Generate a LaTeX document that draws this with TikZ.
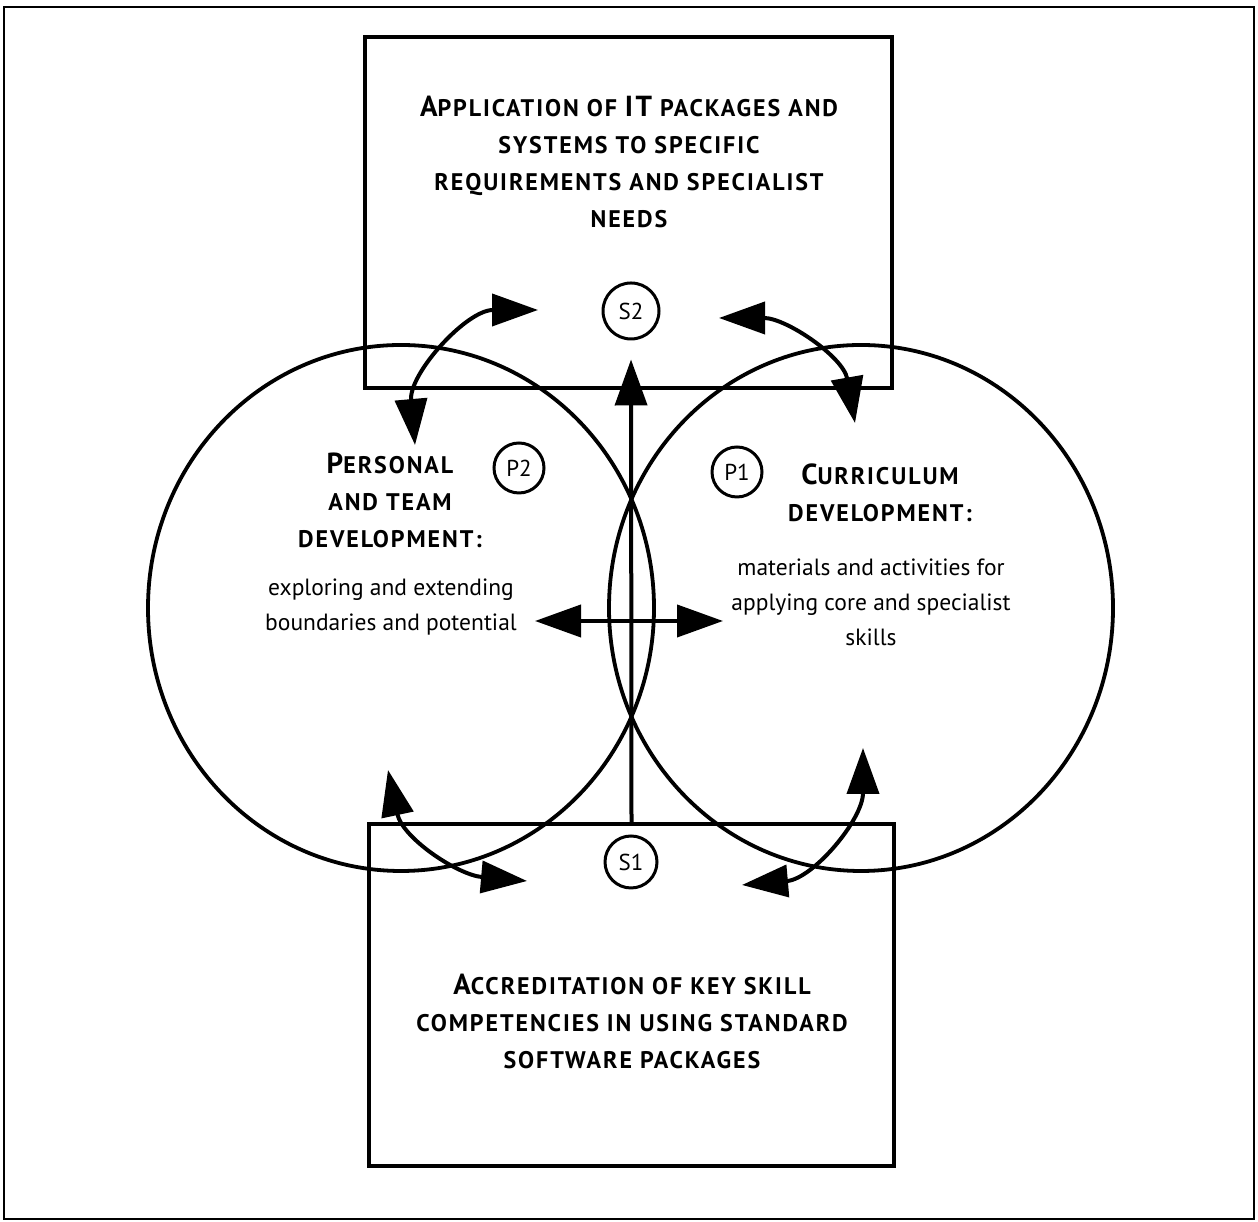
\documentclass[tikz,border=0pt]{standalone}
\usepackage{fontspec}
\setmainfont{PT Sans}
\usetikzlibrary{arrows.meta, shapes.geometric, positioning}

% fake small caps for the headings
\newcommand\smc{\fontsize{24}{37}\selectfont\bfseries\addfontfeature{LetterSpace=8}}
\newcommand\bigc{\fontsize{29}{37}\selectfont}

\begin{document}
\begin{tikzpicture}[
    x=1pt, y=1pt,
    >={Triangle[length=46pt, width=32pt]},
    box/.style={draw, line width=4pt, minimum width=527pt, minimum height=351pt},
    blob/.style={ellipse, draw, line width=3.8pt, inner sep=0pt},
    tag/.style={circle, draw, line width=3pt, minimum size=50pt, inner sep=0pt, font=\fontsize{23}{25}\selectfont},
    link/.style={line width=4pt, <->},
    title/.style={align=center, inner sep=0pt, font=\smc},
    body/.style={align=center, inner sep=0pt, font=\fontsize{23.5}{35}\selectfont}
]
   \useasboundingbox (0,0) rectangle (1258,1222);
   \draw[line width=2.5pt] (4,3) rectangle (1254,1215);

   % the two boxes and the two ovals
   \node[box] (app) at (628.5,1009.5) {};
   \node[box, minimum width=525pt, minimum height=342pt] (acc) at (631.5,227) {};
   \node[blob, minimum width=506pt, minimum height=526pt] (pers) at (401,614) {};
   \node[blob, minimum width=504pt, minimum height=526pt] (curr) at (861,614) {};

   % markers
   \node[tag, minimum size=56pt] (s2) at (631,911) {S2};
   \node[tag, minimum size=52pt] (s1) at (631,360) {S1};
   \node[tag] (p2) at (519,754) {P2};
   \node[tag] (p1) at (737,750) {P1};

   % texts
   \node[title] (apptext) at (629,1060) {{\bigc A}PPLICATION OF {\bigc IT} PACKAGES AND\\SYSTEMS TO SPECIFIC\\REQUIREMENTS AND SPECIALIST\\NEEDS};
   \node[title] (acctext) at (632,201) {{\bigc A}CCREDITATION OF KEY SKILL\\COMPETENCIES IN USING STANDARD\\SOFTWARE PACKAGES};
   \node[title] (perstext) at (390,722) {{\bigc P}ERSONAL\\AND TEAM\\DEVELOPMENT:};
   \node[body] (persbody) at (391,615) {exploring and extending\\boundaries and potential};
   \node[title] (currtext) at (880,729) {{\bigc C}URRICULUM\\DEVELOPMENT:};
   \node[body] (currbody) at (871,620) {materials and activities for\\applying core and specialist\\skills};

   % arrow ends
   \coordinate (tl1) at (538,912);
   \coordinate (tl2) at (415,777);
   \coordinate (tr1) at (719,904);
   \coordinate (tr2) at (855,799);
   \coordinate (bl1) at (388,452);
   \coordinate (bl2) at (527,341);
   \coordinate (br1) at (863,474);
   \coordinate (br2) at (742,337);
   \coordinate (hl) at (535,601);
   \coordinate (hr) at (723,601);

   % connectors
   \draw[line width=4pt, ->, shorten >=19pt] (acc.north) -- (s2.south);
   \draw[link] (hl) -- (hr);
   \draw[link] (tl1) to[out=180, in=95] (tl2);
   \draw[link] (tr1) to[out=0, in=100] (tr2);
   \draw[link] (bl1) to[out=-78, in=175] (bl2);
   \draw[link] (br1) to[out=-90, in=5] (br2);
\end{tikzpicture}
\end{document}
